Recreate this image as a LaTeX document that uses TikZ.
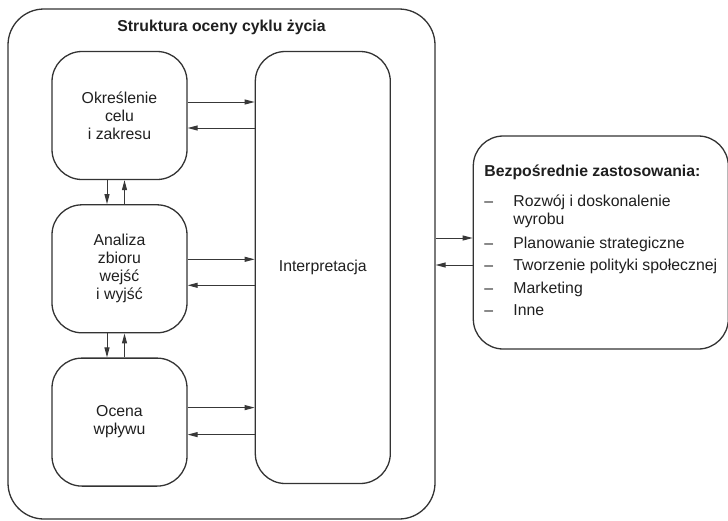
\documentclass[tikz,border=0pt]{standalone}
\usepackage{fontspec}
\setmainfont{Liberation Sans}
\usetikzlibrary{arrows.meta,positioning}

\begin{document}
\begin{tikzpicture}[font=\fontsize{15.8}{18}\selectfont, text=black!88]
		\tikzset{
				blok/.style={draw=black!80, line width=1.3pt, rounded corners=30pt, minimum width=135pt, minimum height=128pt, align=center, inner sep=0pt},
				strz/.style={draw=black!78, line width=1pt, -{Triangle[length=10pt,width=5pt]}}
			}
		\useasboundingbox (0pt,0pt) rectangle (728pt,-520pt);
		\node [blok, rounded corners=36pt, minimum width=427pt, minimum height=510pt] (ramka) at (221.5pt,-264pt) {};
		\node [anchor=base, font=\fontsize{15.8}{18}\selectfont\bfseries] (tytul) at ([yshift=-23.5pt]ramka.north) {Struktura oceny cyklu życia};
		
		\node [blok] (cel) at (119.5pt,-115.5pt) {Określenie\\celu\\i zakresu};
		\node [blok, below=24pt of cel] (analiza) {Analiza\\zbioru\\wejść\\i wyjść};
		\node [blok, below=24pt of analiza] (ocena) {Ocena\\wpływu};
		\node [blok, minimum height=432pt, below right=0pt and 67pt of cel.north east] (interp) {Interpretacja};
		\node [blok, minimum width=255pt, minimum height=213pt, right=37pt of ramka, yshift=21.5pt] (zast) {%
			\begin{tabular}{@{}p{29pt}@{}l@{}}
				\multicolumn{2}{@{}l@{}}{\bfseries Bezpośrednie zastosowania:}\\[12pt]
				--&Rozwój i doskonalenie\\
				&wyrobu\\[5.5pt]
				--&Planowanie strategiczne\\[4.5pt]
				--&Tworzenie polityki społecznej\\[4.5pt]
				--&Marketing\\[4.5pt]
				--&Inne
			\end{tabular}};
		
		\draw [strz] ([yshift=13.5pt]cel.east) -- ([yshift=13.5pt]cel.east -| interp.west);
		\draw [strz] ([yshift=-12.5pt]cel.east -| interp.west) -- ([yshift=-12.5pt]cel.east);
		\draw [strz] ([yshift=9.5pt]analiza.east) -- ([yshift=9.5pt]analiza.east -| interp.west);
		\draw [strz] ([yshift=-16.5pt]analiza.east -| interp.west) -- ([yshift=-16.5pt]analiza.east);
		\draw [strz] ([yshift=14.5pt]ocena.east) -- ([yshift=14.5pt]ocena.east -| interp.west);
		\draw [strz] ([yshift=-12.5pt]ocena.east -| interp.west) -- ([yshift=-12.5pt]ocena.east);
		\draw [strz] ([xshift=-12.5pt]cel.south) -- ([xshift=-12.5pt]analiza.north);
		\draw [strz] ([xshift=5pt]analiza.north) -- ([xshift=5pt]cel.south);
		\draw [strz] ([xshift=-12.5pt]analiza.south) -- ([xshift=-12.5pt]ocena.north);
		\draw [strz] ([xshift=5pt]ocena.north) -- ([xshift=5pt]analiza.south);
		\draw [strz] ([yshift=26pt]ramka.east) -- ([yshift=26pt]ramka.east -| zast.west);
		\draw [strz] ([yshift=-1pt]ramka.east -| zast.west) -- ([yshift=-1pt]ramka.east);
	\end{tikzpicture}
\end{document}
